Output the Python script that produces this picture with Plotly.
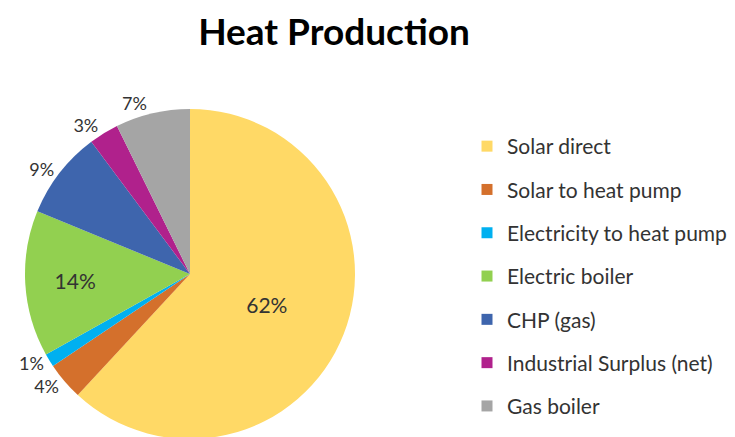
import plotly.graph_objects as go

labels = ["Solar direct", "Solar to heat pump", "Electricity to heat pump",
          "Electric boiler", "CHP (gas)", "Industrial Surplus (net)", "Gas boiler"]
values = [61.9, 3.7, 1.3, 14.3, 8.6, 2.9, 7.3]
colors = ["#FFD966", "#D4702C", "#00B0F0", "#92D050", "#3E65AD", "#B0218C", "#A5A5A5"]
text_positions = ["inside", "outside", "outside", "inside", "outside", "outside", "outside"]
title_text = "Heat Production"

FONT = "Lato, Open Sans, sans-serif"
H = 437

fig = go.Figure()
fig.add_trace(go.Pie(
    labels=labels, values=values, sort=False, direction="clockwise", rotation=0,
    marker=dict(colors=colors, line=dict(color="white", width=0)),
    texttemplate="%{percent:.0%}", textposition=text_positions,
    insidetextorientation="horizontal",
    insidetextfont=dict(family=FONT, size=21, color="#333333"),
    outsidetextfont=dict(family=FONT, size=18, color="#333333"),
    domain=dict(x=[17/735, 347/735], y=[1-431/H, 1-101/H]),
    showlegend=False, hoverinfo="label+percent",
))
for lab, col in zip(labels, colors):
    fig.add_trace(go.Scatter(x=[None], y=[None], mode="markers", name=lab,
                             legendgroup=lab,
                             marker=dict(symbol="square", size=11, color=col)))

fig.update_layout(
    width=735, height=H,
    margin=dict(l=0, r=0, t=0, b=0),
    paper_bgcolor="white", plot_bgcolor="white",
    title=dict(text="<b>" + title_text + "</b>", x=326/735, xanchor="center",
               y=1-24/H, yanchor="middle",
               font=dict(family=FONT, size=37, color="black")),
    xaxis=dict(visible=False), yaxis=dict(visible=False),
    legend=dict(x=459/735, y=1-118/H, xanchor="left", yanchor="top",
                font=dict(family=FONT, size=21, color="#333333"),
                tracegroupgap=13, bgcolor="rgba(0,0,0,0)"),
)
fig.write_html("out.html")
